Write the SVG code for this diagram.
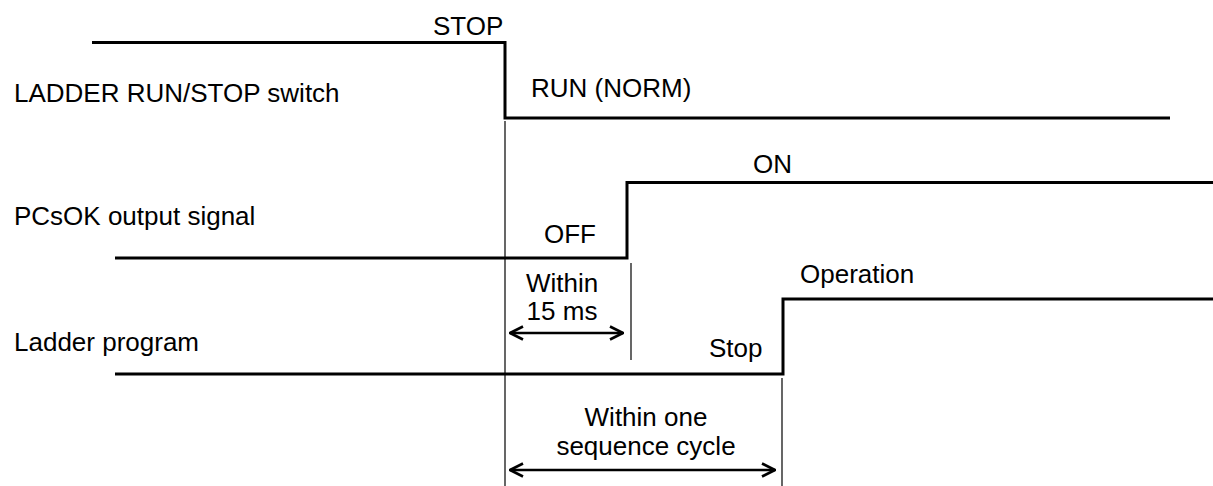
<svg xmlns="http://www.w3.org/2000/svg" width="1213" height="486" viewBox="0 0 1213 486">
<style>
text{font-family:"Liberation Sans",Arial,sans-serif;font-size:26px;fill:#000}
.wave{fill:none;stroke:#000;stroke-width:3}
.thin{fill:none;stroke:#000;stroke-width:1.2}
.dim{fill:none;stroke:#000;stroke-width:2.4}
.mid{text-anchor:middle}
</style>
<defs>
<marker id="ah" viewBox="0 0 15 16" refX="14" refY="8" markerWidth="15" markerHeight="16" markerUnits="userSpaceOnUse" orient="auto-start-reverse">
<path d="M1,1.5 L14,8 L1,14.5" fill="none" stroke="#000" stroke-width="2.6"/>
</marker>
</defs>
<g id="labels">
<text x="14" y="102">LADDER RUN/STOP switch</text>
<text x="14" y="225">PCsOK output signal</text>
<text x="14" y="351">Ladder program</text>
</g>
<g id="wave-switch">
<path class="wave" d="M92,42.5 H505 V118 H1170"/>
<text x="433" y="35">STOP</text>
<text x="531" y="97">RUN (NORM)</text>
</g>
<g id="wave-pcsok">
<path class="wave" d="M115,258 H627 V182.5 H1213"/>
<text x="753" y="173">ON</text>
<text x="544" y="243">OFF</text>
</g>
<g id="wave-ladder">
<path class="wave" d="M115,374 H783 V299 H1213"/>
<text x="800" y="283">Operation</text>
<text x="709" y="357">Stop</text>
</g>
<g id="connectors">
<line class="thin" x1="505" y1="121" x2="505" y2="486"/>
<line class="thin" x1="631" y1="263" x2="631" y2="360"/>
<line class="thin" x1="782" y1="378" x2="782" y2="486"/>
<line class="dim" x1="510" y1="333" x2="623" y2="333" marker-start="url(#ah)" marker-end="url(#ah)"/>
<line class="dim" x1="510" y1="470" x2="775" y2="470" marker-start="url(#ah)" marker-end="url(#ah)"/>
</g>
<g id="dim-labels">
<text class="mid" x="562" y="292">Within</text>
<text class="mid" x="562" y="320">15 ms</text>
<text class="mid" x="646" y="426">Within one</text>
<text class="mid" x="646" y="455">sequence cycle</text>
</g>
</svg>
